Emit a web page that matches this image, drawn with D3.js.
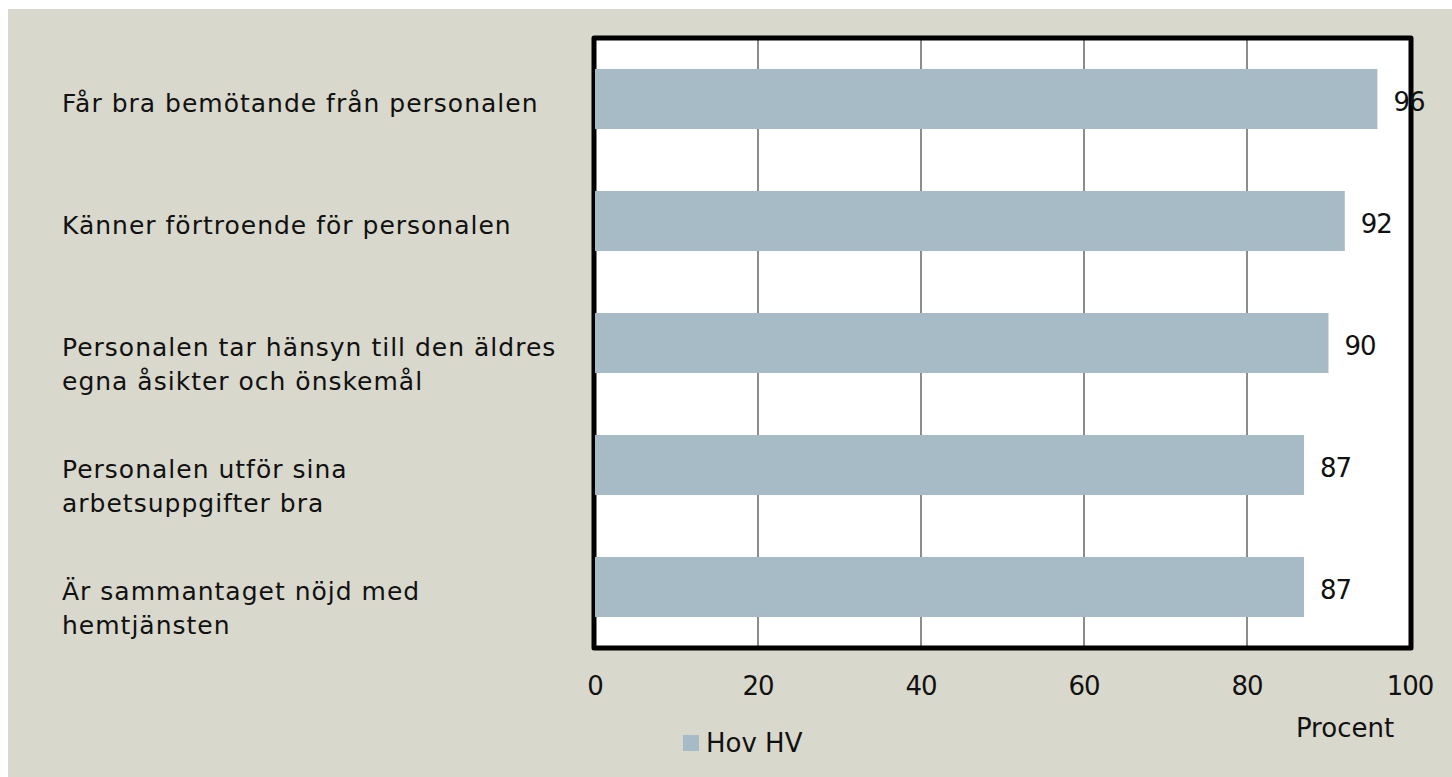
<!DOCTYPE html>
<html>
<head>
<meta charset="utf-8">
<script src="https://cdn.jsdelivr.net/npm/d3@7"></script>
<style>
  body { margin: 0; background: #fff; }
  svg { display: block; font-family: "DejaVu Sans", sans-serif; }
</style>
</head>
<body>
<div id="chart"></div>
<script>
// data
const categories = [
    "Får bra bemötande från personalen",
    "Känner förtroende för personalen",
    "Personalen tar hänsyn till den äldres|egna åsikter och önskemål",
    "Personalen utför sina|arbetsuppgifter bra",
    "Är sammantaget nöjd med|hemtjänsten"
];
const values = [96, 92, 90, 87, 87];
const ticks = [0, 20, 40, 60, 80, 100];
const seriesName = "Hov HV";
const axisTitle = "Procent";

const W = 1452, H = 777;
const plot = { left: 595, right: 1410, top: 38, bottom: 648 };

const svg = d3.select("#chart").append("svg")
    .attr("width", W)
    .attr("height", H);

// beige panel
svg.append("rect")
    .attr("x", 8).attr("y", 9)
    .attr("width", W - 8).attr("height", H - 9)
    .attr("fill", "#d9d8cc");

const x = d3.scaleLinear().domain([0, 100]).range([plot.left, plot.right]);
const y = d3.scaleBand()
    .domain(categories)
    .range([plot.top, plot.bottom])
    .paddingInner(0.508)
    .paddingOuter(0.254);

// plot area
svg.append("rect")
    .attr("x", plot.left).attr("y", plot.top)
    .attr("width", plot.right - plot.left)
    .attr("height", plot.bottom - plot.top)
    .attr("fill", "#fff");

// gridlines
svg.append("g")
    .selectAll("line")
    .data(ticks.slice(1, -1))
    .join("line")
    .attr("x1", d => x(d)).attr("x2", d => x(d))
    .attr("y1", plot.top).attr("y2", plot.bottom)
    .attr("stroke", "#8c8c8c")
    .attr("stroke-width", 2);

// border
svg.append("rect")
    .attr("x", plot.left - 1).attr("y", plot.top)
    .attr("width", plot.right - plot.left + 2)
    .attr("height", plot.bottom - plot.top)
    .attr("fill", "none")
    .attr("stroke", "#000")
    .attr("stroke-width", 5)
    .attr("stroke-linejoin", "round");

// bars
svg.append("g")
    .selectAll("rect")
    .data(categories)
    .join("rect")
    .attr("x", x(0))
    .attr("y", d => y(d))
    .attr("width", (d, i) => x(values[i]) - x(0))
    .attr("height", y.bandwidth())
    .attr("fill", "#a6bbc6");

// value labels
svg.append("g")
    .selectAll("text")
    .data(categories)
    .join("text")
    .attr("x", (d, i) => x(values[i]) + 16)
    .attr("y", d => y(d) + y.bandwidth() / 2 + 12)
    .attr("font-size", 26)
    .attr("letter-spacing", -1)
    .attr("fill", "#111")
    .text((d, i) => values[i]);

// category labels (| marks a line break)
const labels = svg.append("g")
    .selectAll("text")
    .data(categories)
    .join("text")
    .attr("x", 62)
    .attr("y", d => y(d) + y.bandwidth() / 2 + 13)
    .attr("font-size", 25)
    .attr("letter-spacing", 1)
    .attr("fill", "#111");

labels.selectAll("tspan")
    .data(d => d.split("|"))
    .join("tspan")
    .attr("x", 62)
    .attr("dy", (d, i) => i ? 34 : 0)
    .text(d => d);

// x tick labels
svg.append("g")
    .selectAll("text")
    .data(ticks)
    .join("text")
    .attr("x", d => x(d))
    .attr("y", 695)
    .attr("text-anchor", "middle")
    .attr("font-size", 26)
    .attr("letter-spacing", -1)
    .attr("fill", "#111")
    .text(d => d);

svg.append("text")
    .attr("x", 1345).attr("y", 737)
    .attr("text-anchor", "middle")
    .attr("font-size", 26)
    .attr("fill", "#111")
    .text(axisTitle);

// legend
svg.append("rect")
    .attr("x", 683).attr("y", 735)
    .attr("width", 16).attr("height", 16)
    .attr("fill", "#a6bbc6");

svg.append("text")
    .attr("x", 706).attr("y", 752)
    .attr("font-size", 26)
    .attr("fill", "#111")
    .text(seriesName);
</script>
</body>
</html>
